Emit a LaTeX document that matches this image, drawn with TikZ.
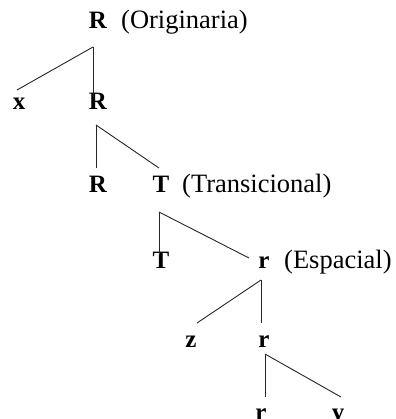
\documentclass[tikz,border=0pt]{standalone}
\usepackage{fontspec}
\setmainfont{Liberation Serif}
\begin{document}
\begin{tikzpicture}[x=1pt,y=-1pt,
        cat/.style={anchor=base,inner sep=0pt,font=\fontsize{25}{28}\selectfont\bfseries},
        gloss/.style={anchor=base west,inner sep=0pt,font=\fontsize{26.5}{28}\selectfont},
        branch/.style={line width=0.9pt,black!85}]
    \useasboundingbox (0,0) rectangle (395,419);

    \node[cat] (R0) at (98,29) {R};
    \node[gloss] (orig) at (121,29) {(Originaria)};
    \node[cat] (x) at (19,110) {x};
    \node[cat] (R1) at (98,110) {R};
    \node[cat] (R2) at (98,193) {R};
    \node[cat] (T0) at (161,193) {T};
    \node[gloss] (trans) at (182,193) {(Transicional)};
    \node[cat] (T1) at (161,268) {T};
    \node[cat] (r0) at (264,268) {r};
    \node[gloss] (esp) at (284,268) {(Espacial)};
    \node[cat] (z) at (191,347) {z};
    \node[cat] (r1) at (264,347) {r};
    \node[cat] (r2) at (261,420) {r};
    \node[cat] (y) at (338,420) {y};

    % branching points and line ends
    \coordinate (j0) at (93,47);
    \coordinate (j1) at (96,125);
    \coordinate (j2) at (159,212);
    \coordinate (j3) at (261,280);
    \coordinate (j4) at (265,354);

    \draw[branch] (j0) -- (17,90) coordinate (ex);
    \draw[branch] (j0) -- (93,97) coordinate (eR1);
    \draw[branch] (j1) -- (96,168) coordinate (eR2);
    \draw[branch] (j1) -- (159,168) coordinate (eT0);
    \draw[branch] (j2) -- (159,255) coordinate (eT1);
    \draw[branch] (j2) -- (249,258) coordinate (er0);
    \draw[branch] (j3) -- (197,323) coordinate (ez);
    \draw[branch] (j3) -- (261,323) coordinate (er1);
    \draw[branch] (j4) -- (265,397) coordinate (er2);
    \draw[branch] (j4) -- (341,397) coordinate (ey);
\end{tikzpicture}
\end{document}
